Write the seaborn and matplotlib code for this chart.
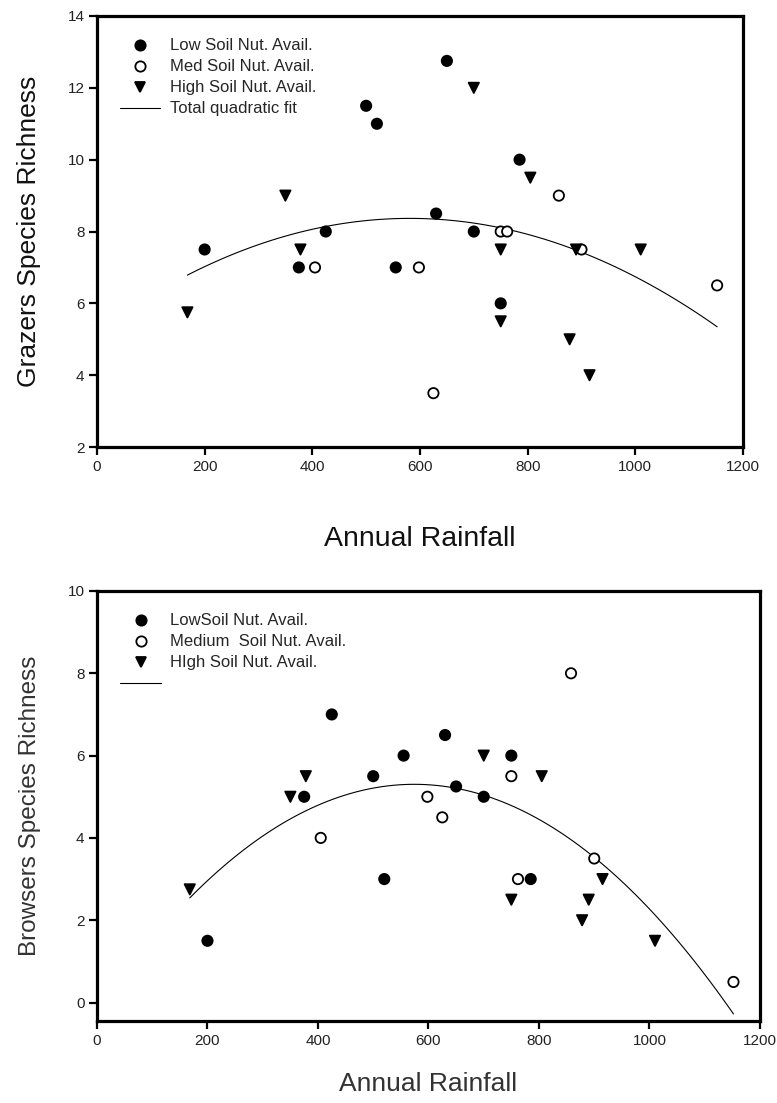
import numpy as np
import pandas as pd
import matplotlib
matplotlib.use('Agg')
import matplotlib.pyplot as plt
import seaborn as sns

# site rainfall per nutrient class (same sites in both panels)
low_rain = [200, 375, 425, 500, 520, 555, 630, 650, 700, 750, 785]
med_rain = [405, 598, 625, 750, 762, 858, 900, 1152]
high_rain_g = [168, 350, 378, 700, 750, 750, 805, 878, 890, 915, 1010]
high_rain_b = [168, 350, 378, 700, 750, 805, 878, 890, 915, 1010]

# grazers species richness
low_graz = [7.5, 7, 8, 11.5, 11, 7, 8.5, 12.75, 8, 6, 10]
med_graz = [7, 7, 3.5, 8, 8, 9, 7.5, 6.5]
high_graz = [5.75, 9, 7.5, 12, 7.5, 5.5, 9.5, 5, 7.5, 4, 7.5]

# browsers species richness
low_brow = [1.5, 5, 7, 5.5, 3, 6, 6.5, 5.25, 5, 6, 3]
med_brow = [4, 5, 4.5, 5.5, 3, 8, 3.5, 0.5]
high_brow = [2.75, 5, 5.5, 6, 2.5, 5.5, 2, 2.5, 3, 1.5]

top_labels = ['Low Soil Nut. Avail.', 'Med Soil Nut. Avail.', 'High Soil Nut. Avail.']
bot_labels = ['LowSoil Nut. Avail.', 'Medium  Soil Nut. Avail.', 'HIgh Soil Nut. Avail.']
x_ticks = [0, 200, 400, 600, 800, 1000, 1200]


def make_df(labels, rains, vals):
    parts = []
    for lab, r, v in zip(labels, rains, vals):
        parts.append(pd.DataFrame({'rain': r, 'rich': v, 'nut': lab}))
    return pd.concat(parts, ignore_index=True)


df_g = make_df(top_labels, [low_rain, med_rain, high_rain_g], [low_graz, med_graz, high_graz])
df_b = make_df(bot_labels, [low_rain, med_rain, high_rain_b], [low_brow, med_brow, high_brow])

sns.set_style('ticks')
plt.rcParams['font.family'] = ['Liberation Sans', 'DejaVu Sans']

fig = plt.figure(figsize=(7.77, 11.03), dpi=100)
ax1 = fig.add_axes([0.1248, 0.5947, 0.8314, 0.3908])
ax2 = fig.add_axes([0.1248, 0.0743, 0.8533, 0.3899])


def panel(ax, df, labels, fit_label, ylab, ylim, yticks, xl_size, yl_size, xpad, col):
    pal = dict(zip(labels, ['black', 'white', 'black']))
    mk = dict(zip(labels, ['o', 'o', 'v']))
    sns.scatterplot(data=df, x='rain', y='rich', hue='nut', style='nut',
                    palette=pal, markers=mk, hue_order=labels, style_order=labels,
                    edgecolor='black', linewidth=1.3, s=55, ax=ax, zorder=3)
    sns.regplot(data=df, x='rain', y='rich', order=2, scatter=False, ci=None,
                truncate=True, color='black', ax=ax,
                line_kws={'linewidth': 0.8, 'label': fit_label})
    leg = ax.get_legend()
    handles = list(leg.legend_handles)
    texts = [t.get_text() for t in leg.texts]
    leg.remove()
    line = ax.get_lines()[-1]
    handles = handles[-3:] + [line]
    texts = texts[-3:] + [fit_label]
    ax.legend(handles, texts, loc='upper left', bbox_to_anchor=(0.035, 0.948),
              frameon=False, fontsize=12, handlelength=2.45, handletextpad=0.55,
              labelspacing=0.36, borderpad=0, borderaxespad=0)
    ax.set_xlim(0, 1200)
    ax.set_ylim(*ylim)
    ax.set_xticks(x_ticks)
    ax.set_yticks(yticks)
    ax.set_xlabel('Annual Rainfall', fontsize=xl_size, labelpad=xpad, color=col)
    ax.set_ylabel(ylab, fontsize=yl_size, labelpad=19, color=col)
    for sp in ax.spines.values():
        sp.set_visible(True)
        sp.set_linewidth(2.3)
        sp.set_color('black')
    ax.tick_params(direction='out', length=6, width=1.6, pad=3, labelsize=11,
                   labelcolor='#222222', color='black')


panel(ax1, df_g, top_labels, 'Total quadratic fit', 'Grazers Species Richness',
      (2, 14), [2, 4, 6, 8, 10, 12, 14], 20.5, 19, 38, '#111111')
panel(ax2, df_b, bot_labels, '', 'Browsers Species Richness',
      (-0.45, 10), [0, 2, 4, 6, 8, 10], 19, 17.5, 17.5, '#333333')

fig.savefig('out.png', dpi=100)
